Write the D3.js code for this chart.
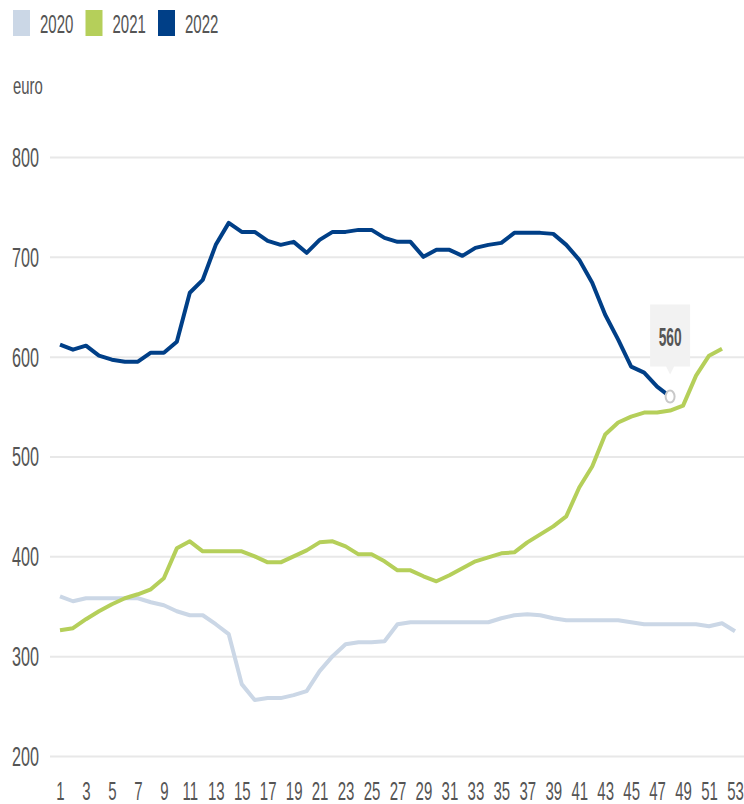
<!DOCTYPE html>
<html>
<head>
<meta charset="utf-8">
<script src="https://cdn.jsdelivr.net/npm/d3@7"></script>
<style>
  body { margin: 0; background: #fff; }
  svg text { font-family: "Liberation Sans", Arial, sans-serif; fill: #555; }
</style>
</head>
<body>
<svg width="744" height="804"></svg>
<script>
const years = ["2020", "2021", "2022"];
const colors = ["#cbd7e6", "#b5cf5a", "#003f87"];
const yTicks = [200, 300, 400, 500, 600, 700, 800];
const xTicks = d3.range(1, 54, 2);

const v2020 = [360, 355, 358, 358, 358, 358, 358, 354, 351, 345, 341, 341, 332, 322, 272, 256, 258, 258, 261, 265,
  285, 300, 312, 314, 314, 315, 332, 334, 334, 334, 334, 334, 334, 334, 338, 341, 342, 341, 338, 336,
  336, 336, 336, 336, 334, 332, 332, 332, 332, 332, 330, 333, 325];
const v2021 = [326, 328, 337, 345, 352, 358, 362, 367, 378, 408, 415, 405, 405, 405, 405, 400, 394, 394, 400, 406,
  414, 415, 410, 402, 402, 395, 386, 386, 380, 375, 381, 388, 395, 399, 403, 404, 414, 422, 430, 440,
  469, 490, 522, 534, 540, 544, 544, 546, 551, 581, 601, 608];
const v2022 = [612, 607, 611, 601, 597, 595, 595, 604, 604, 615, 664, 677, 712, 734, 725, 725, 716, 712, 715, 704,
  717, 725, 725, 727, 727, 719, 715, 715, 700, 707, 707, 701, 709, 712, 714, 724, 724, 724, 723, 712,
  697, 674, 642, 617, 590, 584, 570, 560];
const series = [v2020, v2021, v2022];
const tipWeek = 48, tipValue = 560;

const narrow = 0.6; // the reference uses a condensed face

const svg = d3.select("svg");
const x = d3.scaleLinear().domain([1, 53]).range([60, 735]);
const y = d3.scaleLinear().domain([200, 800]).range([756, 157]);

// grid + y labels
const yAxis = svg.append("g").attr("transform", "translate(50,0)")
  .call(d3.axisLeft(y).tickValues(yTicks).tickSize(-694));
yAxis.select(".domain").remove();
yAxis.selectAll(".tick line").attr("stroke", "#e8e8e8").attr("stroke-width", 2);
yAxis.selectAll(".tick text")
  .style("font-size", "27px").attr("fill", "#555")
  .attr("x", -11 / narrow).attr("dy", "0.35em")
  .attr("transform", `scale(${narrow},1)`);

// x labels
const xAxis = svg.append("g").attr("transform", "translate(0,770)")
  .call(d3.axisBottom(x).tickValues(xTicks).tickSize(0).tickPadding(12));
xAxis.select(".domain").remove();
xAxis.selectAll(".tick text")
  .style("font-size", "25px").attr("fill", "#555")
  .attr("transform", `scale(${narrow},1)`);

svg.append("text").attr("transform", `translate(13,94) scale(0.62,1)`)
  .style("font-size", "24px").text("euro");

// lines
const line = d3.line().x((d, i) => x(i + 1)).y(d => y(d));
series.forEach((s, k) => {
  svg.append("path").datum(s)
    .attr("fill", "none")
    .attr("stroke", colors[k])
    .attr("stroke-width", 4)
    .attr("stroke-linejoin", "round")
    .attr("d", line);
});

// tooltip
const tx = x(tipWeek), ty = y(tipValue);
svg.append("path")
  .attr("d", `M${tx - 20},${ty - 92} h40 v62 h-16 l-4,8 l-4,-8 h-16 z`)
  .attr("fill", "#f2f2f2");
svg.append("text").attr("transform", `translate(${tx},${ty - 51}) scale(0.55,1)`)
  .attr("text-anchor", "middle").style("font-size", "25px").style("font-weight", "bold")
  .attr("fill", "#444").text(tipValue);
svg.append("ellipse").attr("cx", tx).attr("cy", ty).attr("rx", 4.5).attr("ry", 6)
  .attr("fill", "#fff").attr("stroke", "#c8c8c8").attr("stroke-width", 2);

// legend
const leg = svg.append("g").selectAll("g").data(years).join("g")
  .attr("transform", (d, i) => `translate(${13 + i * 72.5},10)`);
leg.append("rect").attr("width", 17).attr("height", 26).attr("fill", (d, i) => colors[i]);
leg.append("text").attr("transform", `translate(27,23) scale(${narrow},1)`)
  .style("font-size", "25px").text(d => d);
</script>
</body>
</html>
